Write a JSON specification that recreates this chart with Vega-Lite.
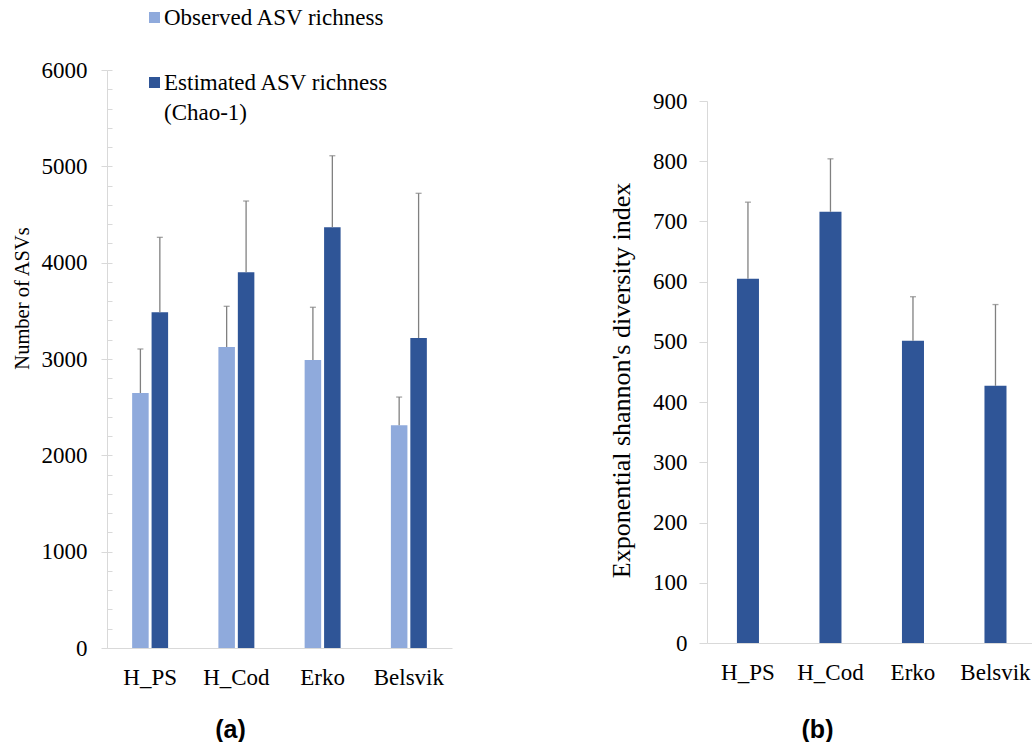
{
  "$schema": "https://vega.github.io/schema/vega-lite/v6.json",
  "padding": {"left": 12, "top": 6, "right": 0, "bottom": 0},
  "background": "white",
  "spacing": 255,
  "bounds": "flush",
  "config": {
    "view": {"stroke": null},
    "font": "Liberation Serif",
    "style": {"guide-label": {"lineHeight": 30}},
    "axis": {
      "domainColor": "#d9d9d9",
      "tickColor": "#d9d9d9",
      "labelFont": "Liberation Serif",
      "labelFontSize": 23,
      "labelColor": "#000000",
      "titleFont": "Liberation Serif",
      "titleFontWeight": "normal",
      "titleColor": "#000000",
      "grid": false
    }
  },
  "datasets": {
    "richness": [
      {"site": "H_PS", "measure": "Observed ASV richness", "value": 2647, "upper": 3104},
      {"site": "H_PS", "measure": "Estimated ASV richness (Chao-1)", "value": 3485, "upper": 4263},
      {"site": "H_Cod", "measure": "Observed ASV richness", "value": 3124, "upper": 3547},
      {"site": "H_Cod", "measure": "Estimated ASV richness (Chao-1)", "value": 3900, "upper": 4640},
      {"site": "Erko", "measure": "Observed ASV richness", "value": 2990, "upper": 3537},
      {"site": "Erko", "measure": "Estimated ASV richness (Chao-1)", "value": 4367, "upper": 5110},
      {"site": "Belsvik", "measure": "Observed ASV richness", "value": 2312, "upper": 2605},
      {"site": "Belsvik", "measure": "Estimated ASV richness (Chao-1)", "value": 3218, "upper": 4720}
    ],
    "shannon": [
      {"site": "H_PS", "value": 605, "upper": 732},
      {"site": "H_Cod", "value": 716, "upper": 804},
      {"site": "Erko", "value": 502, "upper": 575},
      {"site": "Belsvik", "value": 427, "upper": 562}
    ]
  },
  "hconcat": [
    {
      "width": 345,
      "height": 578,
      "data": {"name": "richness"},
      "encoding": {
        "x": {
          "field": "site",
          "type": "nominal",
          "sort": ["H_PS", "H_Cod", "Erko", "Belsvik"],
          "scale": {"paddingInner": 0.583, "paddingOuter": 0.2915},
          "axis": {
            "title": "(a)",
            "labelAngle": 0,
            "ticks": false,
            "labelPadding": 18,
            "titleFont": "Liberation Sans",
            "titleFontWeight": "bold",
            "titleFontSize": 25,
            "titleX": 123,
            "titleY": 81,
            "titleBaseline": "middle",
            "titleAlign": "center"
          }
        },
        "xOffset": {
          "field": "measure",
          "type": "nominal",
          "sort": ["Observed ASV richness", "Estimated ASV richness (Chao-1)"],
          "scale": {"paddingInner": 0.15}
        }
      },
      "layer": [
        {
          "mark": {"type": "bar"},
          "encoding": {
            "y": {
              "field": "value",
              "type": "quantitative",
              "scale": {"domain": [0, 6000], "nice": false},
              "axis": {
                "values": [0, 1000, 2000, 3000, 4000, 5000, 6000],
                "format": "d",
                "tickSize": 6,
                "labelPadding": 14,
                "title": "Number of ASVs",
                "titleFontSize": 20.5,
                "titleAngle": -90,
                "titleX": -85,
                "titleY": 228,
                "titleBaseline": "middle",
                "titleAlign": "center"
              }
            },
            "color": {
              "field": "measure",
              "type": "nominal",
              "scale": {
                "domain": ["Observed ASV richness", "Estimated ASV richness (Chao-1)"],
                "range": ["#8FAADC", "#2F5597"]
              },
              "legend": {
                "title": null,
                "orient": "none",
                "legendX": 36,
                "legendY": -64,
                "padding": 0,
                "symbolType": "square",
                "symbolSize": 121,
                "symbolStrokeWidth": 0,
                "labelFont": "Liberation Serif",
                "labelFontSize": 23,
                "labelColor": "#000000",
                "labelOffset": -2,
                "labelLimit": 0,
                "rowPadding": 41,
                "labelExpr": "datum.label == 'Estimated ASV richness (Chao-1)' ? ['Estimated ASV richness', '(Chao-1)'] : datum.label"
              }
            }
          }
        },
        {
          "mark": {"type": "rule", "color": "#808080", "strokeWidth": 1.3},
          "encoding": {
            "y": {
              "field": "value",
              "type": "quantitative",
              "axis": {
                "orient": "left",
                "values": [0, 200, 400, 600, 800, 1000, 1200, 1400, 1600, 1800, 2000, 2200, 2400, 2600, 2800, 3000, 3200, 3400, 3600, 3800, 4000, 4200, 4400, 4600, 4800, 5000, 5200, 5400, 5600, 5800, 6000],
                "labels": false,
                "domain": false,
                "tickSize": -5,
                "title": null
              }
            },
            "y2": {"field": "upper"}
          }
        },
        {
          "mark": {"type": "tick", "color": "#808080", "size": 6, "thickness": 1.3},
          "encoding": {
            "y": {"field": "upper", "type": "quantitative", "axis": null}
          }
        }
      ],
      "resolve": {"axis": {"y": "independent"}}
    },
    {
      "width": 325,
      "height": 573,
      "data": {"name": "shannon"},
      "encoding": {
        "x": {
          "field": "site",
          "type": "nominal",
          "sort": ["H_PS", "H_Cod", "Erko", "Belsvik"],
          "scale": {"paddingInner": 0.733, "paddingOuter": 0.336, "align": 0.54},
          "axis": {
            "title": "(b)",
            "labelAngle": 0,
            "ticks": false,
            "labelPadding": 18,
            "titleFont": "Liberation Sans",
            "titleFontWeight": "bold",
            "titleFontSize": 25,
            "titleX": 110,
            "titleY": 86,
            "titleBaseline": "middle",
            "titleAlign": "center"
          }
        }
      },
      "layer": [
        {
          "mark": {"type": "bar", "color": "#2F5597"},
          "encoding": {
            "y": {
              "field": "value",
              "type": "quantitative",
              "scale": {"domain": [0, 900], "nice": false, "range": [573, 31]},
              "axis": {
                "values": [0, 100, 200, 300, 400, 500, 600, 700, 800, 900],
                "tickSize": 8,
                "labelPadding": 12,
                "title": "Exponential shannon's diversity index",
                "titleFontSize": 26,
                "titleAngle": -90,
                "titleX": -85.5,
                "titleY": 310,
                "titleBaseline": "middle",
                "titleAlign": "center"
              }
            }
          }
        },
        {
          "mark": {"type": "rule", "color": "#808080", "strokeWidth": 1.3},
          "encoding": {
            "y": {"field": "value", "type": "quantitative"},
            "y2": {"field": "upper"}
          }
        },
        {
          "mark": {"type": "tick", "color": "#808080", "size": 6, "thickness": 1.3},
          "encoding": {
            "y": {"field": "upper", "type": "quantitative"}
          }
        }
      ]
    }
  ]
}
